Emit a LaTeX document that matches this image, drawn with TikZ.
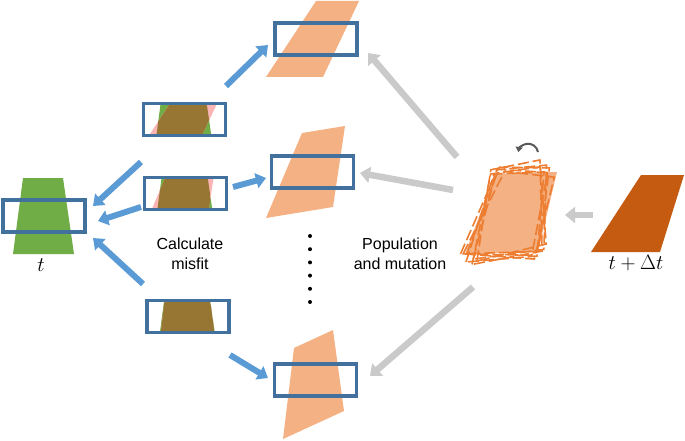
\documentclass[tikz,border=0pt]{standalone}
\usepackage{amsmath, fontspec}
\usetikzlibrary{arrows.meta}
\newfontfamily\arialfont{Liberation Sans}
\definecolor{trgreen}{HTML}{70AD47}
\definecolor{boxblue}{HTML}{41719C}
\definecolor{arrblue}{HTML}{5B9BD5}
\definecolor{lightor}{HTML}{F4B183}
\definecolor{darkor}{HTML}{C55A11}
\definecolor{lineor}{HTML}{ED7D31}
\definecolor{arrgray}{HTML}{CACACA}
\definecolor{misfitpink}{HTML}{FBB4B4}
\definecolor{misfitbrown}{HTML}{977634}
\definecolor{rotgray}{HTML}{595959}

\newcommand{\targetpath}{(23,178) -- (63,178) -- (74,254) -- (13,254) -- cycle}
\newcommand{\trialA}{(316,1) -- (359,1) -- (323,77) -- (266,77) -- cycle}
\newcommand{\trialB}{(302,133) -- (345,126) -- (333,207) -- (266,218) -- cycle}
\newcommand{\trialC}{(294,348) -- (333,330) -- (344,411) -- (283,439) -- cycle}
\newcommand{\misfitview}[5]{%
\begin{scope}
\clip ({#1-41},{#2-16}) rectangle ({#1+41},{#2+16});
\fill[trgreen, shift={({#1-44},{#2-216})}] \targetpath;
\fill[misfitpink, shift={({#1-#4},{#2-#5})}] #3;
\clip[shift={({#1-44},{#2-216})}] \targetpath;
\fill[misfitbrown, shift={({#1-#4},{#2-#5})}] #3;
\end{scope}}

\begin{document}
\begin{tikzpicture}[x=1pt, y=-1pt,
  cropbox/.style={draw=boxblue, line width=3.8pt, minimum width=82pt, minimum height=32pt, inner sep=0pt},
  bluearrow/.style={arrblue, line width=6pt, -{Triangle[length=10pt,width=15pt]}},
  grayarrow/.style={arrgray, line width=6.5pt, -{Triangle[length=10pt,width=16pt]}},
  txt/.style={font=\arialfont\fontsize{16}{20}\selectfont, align=center, inner sep=0pt},
  mathlbl/.style={font=\fontsize{22}{26}\selectfont, inner sep=0pt}]
\useasboundingbox (0,0) rectangle (685,441);

\fill[trgreen] \targetpath;
\node[cropbox] (lbox) at (44,216) {};
\node[mathlbl] (tnow) at (41,265) {$t$};

\misfitview{184.5}{119.5}{\trialA}{316}{39}
\misfitview{185.5}{193.5}{\trialB}{312.5}{172}
\misfitview{188}{316.5}{\trialC}{315.5}{380}
\node[cropbox] (sb1) at (184.5,119.5) {};
\node[cropbox] (sb2) at (185.5,193.5) {};
\node[cropbox] (sb3) at (188,316.5) {};

\fill[lightor] \trialA;
\fill[lightor] \trialB;
\fill[lightor] \trialC;
\node[cropbox] (ob1) at (316,39) {};
\node[cropbox] (ob2) at (312.5,172) {};
\node[cropbox] (ob3) at (315.5,380) {};

\foreach \i in {0,...,5}{\fill (310,{236+13.2*\i}) circle (2);}

\fill[lightor] (465,254) -- (495,174) -- (557,172) -- (538,252) -- cycle;
\foreach \a/\dx/\dy in {-9/2/3, -6/-3/1, -3/1/-2, 0/-2/4, 3/3/-1, 6/-1/2, 9/2/-3}{\draw[lineor, line width=1.6pt, dash pattern=on 11pt off 4pt, rotate around={\a:(512,214)}, shift={(\dx,\dy)}] (468,258) -- (496,170) -- (546,168) -- (539,252) -- cycle;}
\draw[rotgray, line width=2pt, -{Triangle[length=5pt,width=7pt]}] (538,152) arc[start angle=-10, end angle=-170, radius=10];
\coordinate (pop) at (512,214);

\fill[darkor] (641,175) -- (684,175) -- (660,252) -- (591,252) -- cycle;
\node[mathlbl] (tnext) at (636,263) {$t+\Delta t$};

\node[txt] (calc) at (190,254) {Calculate\\misfit};
\node[txt] (mut) at (400,254) {Population\\and mutation};

\coordinate (b1s) at (141,162);
\coordinate (b1e) at (93,206);
\coordinate (b2s) at (141,207);
\coordinate (b2e) at (98,221);
\coordinate (b3s) at (143,284);
\coordinate (b3e) at (93,238);
\coordinate (b4s) at (226,86);
\coordinate (b4e) at (268,45);
\coordinate (b5s) at (233,187);
\coordinate (b5e) at (266,178);
\coordinate (b6s) at (230,355);
\coordinate (b6e) at (268,378);
\draw[bluearrow] (b1s) -- (b1e);
\draw[bluearrow] (b2s) -- (b2e);
\draw[bluearrow] (b3s) -- (b3e);
\draw[bluearrow] (b4s) -- (b4e);
\draw[bluearrow] (b5s) -- (b5e);
\draw[bluearrow] (b6s) -- (b6e);

\coordinate (g1s) at (457,157);
\coordinate (g1e) at (368,53);
\coordinate (g2s) at (453,190);
\coordinate (g2e) at (360,173);
\coordinate (g3s) at (473,287);
\coordinate (g3e) at (370,376);
\coordinate (g4s) at (593,215);
\coordinate (g4e) at (565,215);
\draw[grayarrow] (g1s) -- (g1e);
\draw[grayarrow] (g2s) -- (g2e);
\draw[grayarrow] (g3s) -- (g3e);
\draw[grayarrow] (g4s) -- (g4e);
\end{tikzpicture}
\end{document}
